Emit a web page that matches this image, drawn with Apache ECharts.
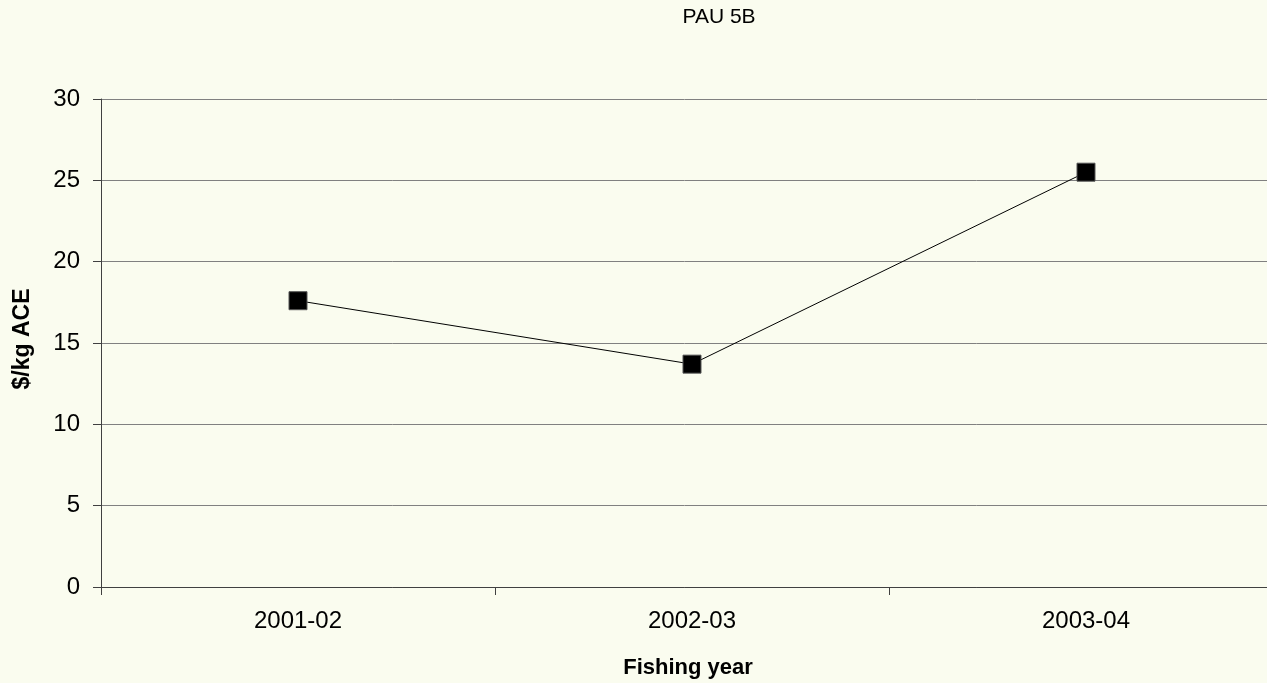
<!DOCTYPE html>
<html><head><meta charset="utf-8">
<script src="https://cdn.jsdelivr.net/npm/echarts@6/dist/echarts.min.js"></script>
<style>html,body{margin:0;padding:0;background:#FAFCEF}#c{width:1267px;height:683px}</style>
</head><body><div id="c"></div>
<script>
const categories = ['2001-02', '2002-03', '2003-04'];
const values = [17.6, 13.7, 25.5];
const yTicks = [0, 5, 10, 15, 20, 25, 30];
const titleText = 'PAU 5B';
const xName = 'Fishing year';
const yName = '$/kg ACE';

const chart = echarts.init(document.getElementById('c'));
const font = '"Liberation Sans", Arial, sans-serif';
chart.setOption({
  backgroundColor: '#FAFCEF',
  animation: false,
  title: { text: titleText, left: 714, top: 2, textAlign: 'center',
    textStyle: { fontFamily: font, fontSize: 21, fontWeight: 'normal', color: '#000' } },
  grid: { left: 101, top: 99, bottom: 96, width: 1182, containLabel: false, outerBoundsMode: 'none' },
  xAxis: {
    type: 'category', data: categories, boundaryGap: true,
    name: xName, nameLocation: 'middle', nameGap: 70,
    nameTextStyle: { fontFamily: font, fontSize: 22, fontWeight: 'bold', color: '#000', padding: [0, 8, 0, 0] },
    axisLine: { show: true, lineStyle: { color: '#404040', width: 1 } },
    axisTick: { show: true, length: 8, lineStyle: { color: '#404040' } },
    axisLabel: { fontFamily: font, fontSize: 24, color: '#000', margin: 22 },
    splitLine: { show: false }
  },
  yAxis: {
    type: 'value', min: yTicks[0], max: yTicks[yTicks.length - 1], interval: 5,
    name: yName, nameLocation: 'middle', nameGap: 67,
    nameTextStyle: { fontFamily: font, fontSize: 23, fontWeight: 'bold', color: '#000', padding: [0, 0, 0, 8] },
    axisLine: { show: true, lineStyle: { color: '#404040', width: 1 } },
    axisTick: { show: true, length: 8, lineStyle: { color: '#404040' } },
    axisLabel: { fontFamily: font, fontSize: 24, color: '#000', margin: 21 },
    splitLine: { show: true, lineStyle: { color: '#808080', width: 1 } }
  },
  series: [{
    type: 'line', data: values, symbol: 'rect', symbolSize: 18,
    itemStyle: { color: '#000', borderColor: '#555', borderWidth: 1 },
    lineStyle: { color: '#000', width: 1 }
  }]
});
</script></body></html>
